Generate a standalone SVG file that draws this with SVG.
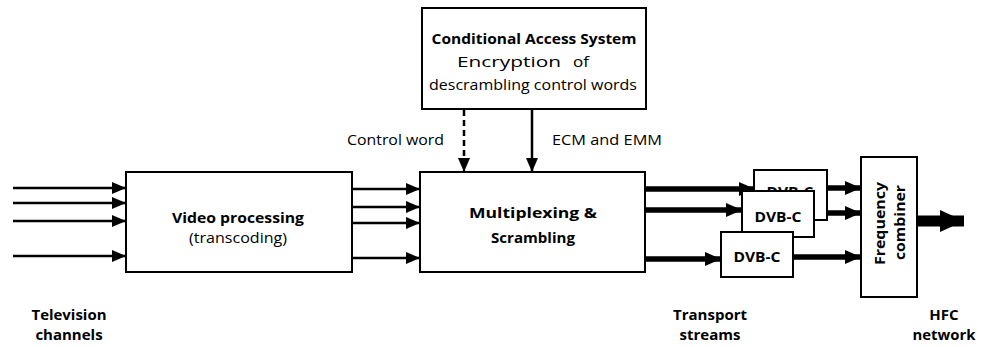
<svg xmlns="http://www.w3.org/2000/svg" width="985" height="347" viewBox="0 0 985 347">
<defs>
<style>
.box{fill:#fff;stroke:#000;stroke-width:2}
.t{font-family:"Open Sans",sans-serif;font-size:15px;fill:#000;text-anchor:middle}
.b{font-weight:bold}
.ln{stroke:#000;stroke-width:2.5;fill:none}
.thick{stroke:#000;stroke-width:5.5;fill:none}
</style>
<marker id="ah" markerWidth="14" markerHeight="12" refX="14" refY="6" orient="auto" markerUnits="userSpaceOnUse"><path d="M0,0 L14,6 L0,12 Z" fill="#000"/></marker>
<marker id="ahm" markerWidth="16" markerHeight="14" refX="16" refY="7" orient="auto" markerUnits="userSpaceOnUse"><path d="M0,0 L16,7 L0,14 Z" fill="#000"/></marker>
<marker id="ahb" markerWidth="24" markerHeight="22" refX="24" refY="11" orient="auto" markerUnits="userSpaceOnUse"><path d="M0,0 L24,11 L0,22 Z" fill="#000"/></marker>
</defs>
<g id="connectors">
<line class="ln" x1="13" y1="188" x2="126" y2="188" marker-end="url(#ah)"/>
<line class="ln" x1="13" y1="203" x2="126" y2="203" marker-end="url(#ah)"/>
<line class="ln" x1="13" y1="221" x2="126" y2="221" marker-end="url(#ah)"/>
<line class="ln" x1="13" y1="256" x2="126" y2="256" marker-end="url(#ah)"/>
<line class="ln" x1="352" y1="189" x2="420" y2="189" marker-end="url(#ah)"/>
<line class="ln" x1="352" y1="207" x2="420" y2="207" marker-end="url(#ah)"/>
<line class="ln" x1="352" y1="223" x2="420" y2="223" marker-end="url(#ah)"/>
<line class="ln" x1="352" y1="258" x2="420" y2="258" marker-end="url(#ah)"/>
<line class="ln" x1="464" y1="110" x2="464" y2="172" stroke-dasharray="6,4" marker-end="url(#ah)"/>
<line class="ln" x1="532" y1="110" x2="532" y2="172" marker-end="url(#ah)"/>
<line class="thick" x1="645" y1="189" x2="755" y2="189" marker-end="url(#ahm)"/>
<line class="thick" x1="645" y1="210" x2="742" y2="210" marker-end="url(#ahm)"/>
<line class="thick" x1="645" y1="259" x2="721" y2="259" marker-end="url(#ahm)"/>
<line class="thick" x1="827" y1="188" x2="861" y2="188" marker-end="url(#ahm)"/>
<line class="thick" x1="814" y1="213" x2="861" y2="213" marker-end="url(#ahm)"/>
<line class="thick" x1="793" y1="257" x2="861" y2="257" marker-end="url(#ahm)"/>
<line x1="917" y1="221" x2="964" y2="221" stroke="#000" stroke-width="11" marker-end="url(#ahb)"/>
</g>
<g id="cas">
<rect class="box" x="422" y="8" width="224" height="101"/>
<text class="t b" x="534" y="44" textLength="205" lengthAdjust="spacingAndGlyphs">Conditional Access System</text>
<text class="t" x="457" y="67" font-size="15.5" style="text-anchor:start" textLength="104" lengthAdjust="spacingAndGlyphs">Encryption</text>
<text class="t" x="573" y="67" font-size="15.5" style="text-anchor:start" textLength="16" lengthAdjust="spacingAndGlyphs">of</text>
<text class="t" x="533" y="90" font-size="15.5" textLength="208" lengthAdjust="spacingAndGlyphs">descrambling control words</text>
</g>
<g id="video">
<rect class="box" x="126" y="172" width="226" height="100"/>
<text class="t b" x="238" y="223" textLength="132" lengthAdjust="spacingAndGlyphs">Video processing</text>
<text class="t" x="238" y="243" font-size="15.5" textLength="98" lengthAdjust="spacingAndGlyphs">(transcoding)</text>
</g>
<g id="mux">
<rect class="box" x="420" y="172" width="225" height="100"/>
<text class="t b" x="533" y="218" font-size="18" textLength="128" lengthAdjust="spacingAndGlyphs">Multiplexing &amp;</text>
<text class="t b" x="533" y="243" textLength="84" lengthAdjust="spacingAndGlyphs">Scrambling</text>
</g>
<g id="dvbc1">
<rect class="box" x="754" y="170" width="73" height="50"/>
<text class="t b" x="790" y="197" textLength="47" lengthAdjust="spacingAndGlyphs">DVB-C</text>
</g>
<g id="dvbc2">
<rect class="box" x="742" y="191" width="72" height="46"/>
<text class="t b" x="778" y="222" textLength="47" lengthAdjust="spacingAndGlyphs">DVB-C</text>
</g>
<g id="dvbc3">
<rect class="box" x="721" y="232" width="72" height="45"/>
<text class="t b" x="757" y="262" textLength="47" lengthAdjust="spacingAndGlyphs">DVB-C</text>
</g>
<g id="combiner">
<rect class="box" x="861" y="157" width="56" height="140"/>
<text class="t b" transform="translate(885,223.5) rotate(-90)" textLength="83" lengthAdjust="spacingAndGlyphs">Frequency</text>
<text class="t b" transform="translate(905,222.5) rotate(-90)" textLength="75" lengthAdjust="spacingAndGlyphs">combiner</text>
</g>
<g id="labels">
<text class="t" x="444" y="145" font-size="15.5" style="text-anchor:end" textLength="97" lengthAdjust="spacingAndGlyphs">Control word</text>
<text class="t" x="552" y="145" font-size="15.5" style="text-anchor:start" textLength="110" lengthAdjust="spacingAndGlyphs">ECM and EMM</text>
<text class="t b" x="69" y="320" textLength="75" lengthAdjust="spacingAndGlyphs">Television</text>
<text class="t b" x="69" y="340">channels</text>
<text class="t b" x="710" y="320" textLength="74" lengthAdjust="spacingAndGlyphs">Transport</text>
<text class="t b" x="710" y="340">streams</text>
<text class="t b" x="944" y="320">HFC</text>
<text class="t b" x="944" y="340" textLength="63" lengthAdjust="spacingAndGlyphs">network</text>
</g>
</svg>
